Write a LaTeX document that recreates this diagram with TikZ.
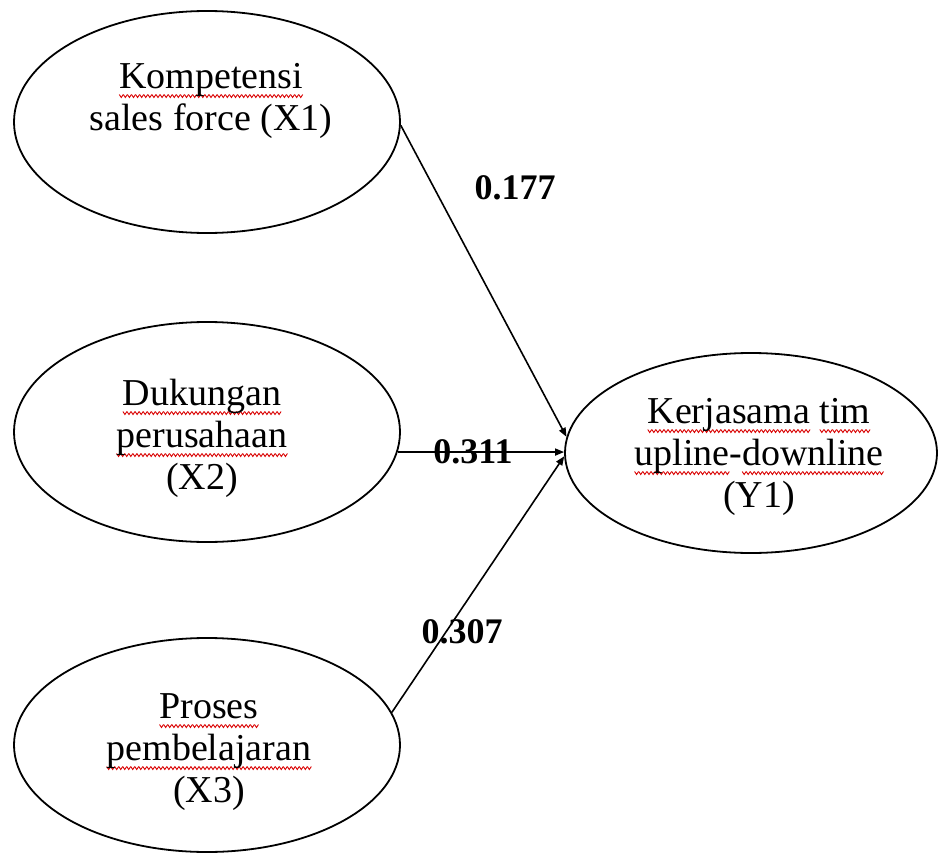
\documentclass[tikz,border=0pt]{standalone}
\usepackage{fontspec}
\setmainfont{Liberation Serif}
\usetikzlibrary{shapes.geometric,arrows.meta}
\newcommand\sqmark{\tikz[baseline=0pt]{\useasboundingbox (0pt,0pt) rectangle (4pt,0pt); \draw[red!85!black, line width=0.9pt, line join=miter] (0pt,-6.5pt) -- (2pt,-9.5pt) -- (4pt,-6.5pt);}}
\newsavebox\sqbox
\newcommand\sq[1]{\leavevmode\sbox\sqbox{#1}\rlap{\hbox to \wd\sqbox{\xleaders\hbox{\sqmark}\hfill}}\usebox\sqbox}
\begin{document}
\begin{tikzpicture}[x=1pt,y=-1pt,
  ell/.style={draw, ellipse, line width=1.8pt, inner sep=0pt},
  lbl/.style={font=\fontsize{38}{42}\selectfont, align=center, anchor=base, inner sep=0pt},
  coef/.style={font=\bfseries\fontsize{36}{40}\selectfont, inner sep=0pt},
  arr/.style={-{Triangle[length=9pt,width=7pt]}, line width=1.6pt}]
\useasboundingbox (0,0) rectangle (938,854);
\node[ell, minimum width=386pt, minimum height=222pt] (x1) at (207,122) {};
\node[ell, minimum width=386pt, minimum height=220pt] (x2) at (207,432) {};
\node[ell, minimum width=386pt, minimum height=214pt] (x3) at (207,745) {};
\node[ell, minimum width=372pt, minimum height=200pt] (y1) at (751,453) {};
\node[lbl] (t1) at (211,130) {\sq{Kompetensi}\\ sales force (X1)};
\node[lbl] (t2) at (202,489) {\sq{Dukungan}\\ \sq{perusahaan}\\ (X2)};
\node[lbl] (t3) at (209,802) {\sq{Proses}\\ \sq{pembelajaran}\\ (X3)};
\node[lbl] (t4) at (759,507) {\sq{Kerjasama} \sq{tim}\\ \sq{upline}-\sq{downline}\\ (Y1)};
\draw[arr] (x1.-1) -- (y1.175);
\draw[arr] (x2.-6) -- (x2.-6 -| y1.west);
\draw[arr] (x3.10) -- (y1.181);
\node[coef] (c1) at (515,188) {0.177};
\node[coef] (c2) at (473,452) {0.311};
\node[coef] (c3) at (462,632) {0.307};
\end{tikzpicture}
\end{document}
